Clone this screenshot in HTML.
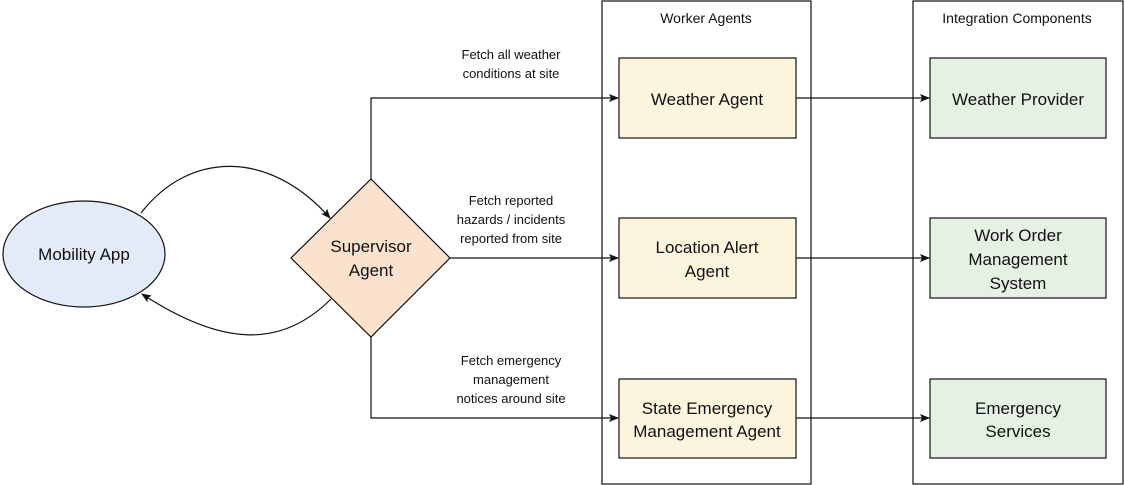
<!DOCTYPE html>
<html><head><meta charset="utf-8"><style>
html,body{margin:0;padding:0;background:#fff;width:1124px;height:485px;overflow:hidden}
text{font-family:"Liberation Sans",sans-serif;fill:#111}
</style></head><body>
<svg width="1124" height="485" viewBox="0 0 1124 485" xmlns="http://www.w3.org/2000/svg">
<defs>
<marker id="a" markerWidth="10" markerHeight="8" refX="9" refY="4" orient="auto" markerUnits="userSpaceOnUse">
<path d="M0,0 L10,4 L0,8 L2,4 Z" fill="#111"/>
</marker>
</defs>
<g stroke="#111" stroke-width="1.2" fill="none">
<!-- containers -->
<rect x="602" y="1" width="209" height="483"/>
<rect x="913" y="1" width="210" height="483"/>
<!-- ellipse -->
<ellipse cx="84" cy="254" rx="81" ry="53" fill="#e4ebf8"/>
<!-- diamond -->
<path d="M371,179 L450,258 L371,337 L291,258 Z" fill="#fbe2cd"/>
<!-- worker boxes -->
<rect x="619" y="58" width="177" height="80" fill="#fdf4de"/>
<rect x="619" y="218" width="177" height="80" fill="#fdf4de"/>
<rect x="619" y="379" width="177" height="79" fill="#fdf4de"/>
<!-- integration boxes -->
<rect x="930" y="58" width="176" height="80" fill="#e5f1e3"/>
<rect x="930" y="218" width="176" height="80" fill="#e5f1e3"/>
<rect x="930" y="379" width="176" height="79" fill="#e5f1e3"/>
<!-- arrows -->
<path d="M371,179 L371,98 L618,98" marker-end="url(#a)"/>
<path d="M450,258 L618,258" marker-end="url(#a)"/>
<path d="M371,337 L371,418 L618,418" marker-end="url(#a)"/>
<path d="M796,98 L929,98" marker-end="url(#a)"/>
<path d="M796,258 L929,258" marker-end="url(#a)"/>
<path d="M796,418 L929,418" marker-end="url(#a)"/>
<path d="M141,213 C190,150 270,150 330,218" marker-end="url(#a)"/>
<path d="M331,299 C280,350 220,345 142,294" marker-end="url(#a)"/>
</g>
<g font-size="17" text-anchor="middle">
<text x="84" y="260">Mobility App</text>
<text x="371" y="252">Supervisor</text>
<text x="371" y="276">Agent</text>
<text x="707" y="105">Weather Agent</text>
<text x="707" y="253">Location Alert</text>
<text x="707" y="277">Agent</text>
<text x="707" y="414">State Emergency</text>
<text x="707" y="437">Management Agent</text>
<text x="1018" y="105">Weather Provider</text>
<text x="1018" y="241">Work Order</text>
<text x="1018" y="265">Management</text>
<text x="1018" y="289">System</text>
<text x="1018" y="414">Emergency</text>
<text x="1018" y="437">Services</text>
</g>
<g font-size="14" text-anchor="middle">
<text x="706" y="23">Worker Agents</text>
<text x="1017" y="23">Integration Components</text>
</g>
<g font-size="13" text-anchor="middle">
<text x="511" y="59">Fetch all weather</text>
<text x="511" y="78">conditions at site</text>
<text x="511" y="205">Fetch reported</text>
<text x="511" y="224">hazards / incidents</text>
<text x="511" y="243">reported from site</text>
<text x="511" y="365">Fetch emergency</text>
<text x="511" y="384">management</text>
<text x="511" y="403">notices around site</text>
</g>
</svg>
</body></html>
